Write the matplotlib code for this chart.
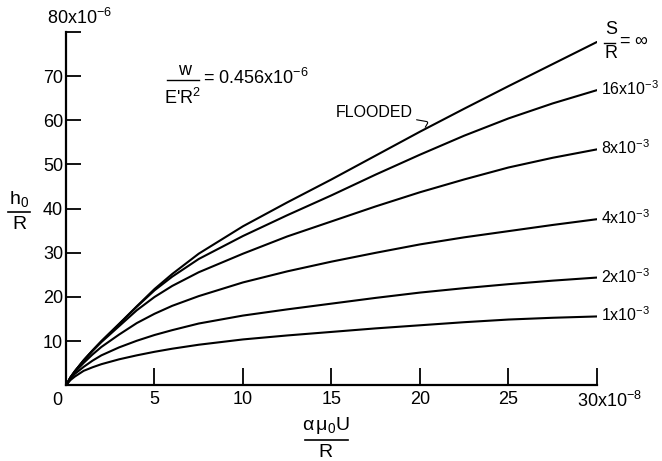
import numpy as np
import matplotlib
matplotlib.use("Agg")
import matplotlib.pyplot as plt
from matplotlib.lines import Line2D

plt.rcParams['font.family'] = ['Liberation Sans', 'DejaVu Sans']
plt.rcParams['mathtext.fontset'] = 'custom'
plt.rcParams['mathtext.rm'] = 'Liberation Sans'
plt.rcParams['mathtext.it'] = 'Liberation Sans'

# speed parameter alpha*mu0*U/R (x1e-8)
speed = [0, 0.25, 0.5, 1, 1.5, 2, 3, 4, 5, 6, 7.5, 10, 12.5, 15, 17.5, 20, 22.5, 25, 27.5, 30]

# film thickness h0/R (x1e-6) for each S/R
h_inf = [0, 1.8, 3.2, 5.7, 7.9, 10.0, 13.9, 17.9, 21.8, 25.2, 29.8, 36.0, 41.4, 46.6, 52.0, 57.4, 62.6, 67.7, 72.7, 77.7]
h_16 = [0, 1.8, 3.2, 5.7, 7.9, 10.0, 13.9, 17.8, 21.5, 24.6, 28.6, 33.8, 38.5, 43.0, 47.7, 52.2, 56.5, 60.4, 63.8, 66.8]
h_8 = [0, 1.8, 3.2, 5.6, 7.8, 9.8, 13.4, 17.0, 20.0, 22.5, 25.6, 29.8, 33.7, 37.1, 40.5, 43.7, 46.6, 49.3, 51.5, 53.4]
h_4 = [0, 1.7, 3.0, 5.1, 7.0, 8.7, 11.5, 14.1, 16.2, 18.0, 20.2, 23.3, 25.8, 28.0, 30.0, 31.9, 33.5, 34.9, 36.3, 37.6]
h_2 = [0, 1.5, 2.6, 4.2, 5.6, 6.8, 8.6, 10.1, 11.4, 12.5, 14.0, 15.8, 17.2, 18.5, 19.8, 21.0, 22.0, 22.9, 23.7, 24.4]
h_1 = [0, 1.2, 2.0, 3.3, 4.1, 4.8, 5.9, 6.8, 7.6, 8.3, 9.2, 10.4, 11.3, 12.1, 12.9, 13.6, 14.3, 14.9, 15.3, 15.6]

curves = [h_inf, h_16, h_8, h_4, h_2, h_1]
end_labels = [None, r'16x10$^{-3}$', r'8x10$^{-3}$', r'4x10$^{-3}$', r'2x10$^{-3}$', r'1x10$^{-3}$']

fig = plt.figure(figsize=(6.62, 4.61), dpi=100)
ax = fig.add_axes([0.0997, 0.164, 0.802, 0.767])

for h in curves:
    ax.plot(speed, h, color='black', lw=1.5, solid_capstyle='round', solid_joinstyle='round')

ax.set_xlim(0, 30)
ax.set_ylim(0, 80)
ax.spines['top'].set_visible(False)
ax.spines['right'].set_visible(False)
ax.spines['left'].set_linewidth(1.6)
ax.spines['bottom'].set_linewidth(1.6)

ax.set_xticks([5, 10, 15, 20, 25, 30])
ax.set_xticklabels(['5', '10', '15', '20', '25', ''])
ax.set_yticks([10, 20, 30, 40, 50, 60, 70, 80])
ax.set_yticklabels(['10', '20', '30', '40', '50', '60', '70', ''])
ax.tick_params(axis='both', direction='in', width=1.3, labelsize=13)
ax.tick_params(axis='x', length=12, pad=4)
ax.tick_params(axis='y', length=11, pad=2)

# extra axis labels
ax.annotate('0', xy=(0, 0), xytext=(-6, -5), textcoords='offset points',
            ha='center', va='top', fontsize=13, annotation_clip=False)
ax.annotate(r'30x10$^{-8}$', xy=(30, 0), xytext=(-14, -4), textcoords='offset points',
            ha='left', va='top', fontsize=13, annotation_clip=False)
ax.annotate(r'80x10$^{-6}$', xy=(0, 80), xytext=(-14, 3), textcoords='offset points',
            ha='left', va='bottom', fontsize=13, annotation_clip=False)

# y axis label h0/R
fig.text(0.029, 0.568, r'h$_0$', ha='center', va='center', fontsize=14)
fig.add_artist(Line2D([0.012, 0.045], [0.540, 0.540], color='black', lw=1.2))
fig.text(0.029, 0.512, 'R', ha='center', va='center', fontsize=14)

# x axis label alpha mu0 U / R
fig.text(0.492, 0.078, r'$\alpha\,\mu_0$U', ha='center', va='center', fontsize=14)
fig.add_artist(Line2D([0.461, 0.526], [0.046, 0.046], color='black', lw=1.2))
fig.text(0.492, 0.019, 'R', ha='center', va='center', fontsize=14)

# load parameter
fig.text(0.279, 0.848, 'w', ha='center', va='center', fontsize=13)
fig.add_artist(Line2D([0.252, 0.301], [0.826, 0.826], color='black', lw=1.0))
fig.text(0.276, 0.788, r"E'R$^2$", ha='center', va='center', fontsize=13)
fig.text(0.307, 0.831, r'= 0.456x10$^{-6}$', ha='left', va='center', fontsize=13)

# FLOODED label with leader
ax.annotate('FLOODED', xy=(20.3, 58.4), xytext=(17.4, 61.8), ha='center', va='center',
            fontsize=11.5, arrowprops=dict(arrowstyle='-', lw=0.8, color='black',
                                            shrinkA=1, shrinkB=0,
                                            connectionstyle='angle,angleA=-10,angleB=60,rad=2'))

# end labels
ax.annotate('S', xy=(speed[-1], h_inf[-1]), xytext=(10, 9), textcoords='offset points',
            ha='center', va='center', fontsize=13, annotation_clip=False)
ax.annotate('R', xy=(speed[-1], h_inf[-1]), xytext=(10, -8), textcoords='offset points',
            ha='center', va='center', fontsize=13, annotation_clip=False)
ax.annotate('= $\\infty$', xy=(speed[-1], h_inf[-1]), xytext=(16, 0), textcoords='offset points',
            ha='left', va='center', fontsize=13, annotation_clip=False)
fig.add_artist(Line2D([0.913, 0.929], [0.907, 0.907], color='black', lw=1.0))
for h, lab in zip(curves[1:], end_labels[1:]):
    ax.annotate(lab, xy=(speed[-1], h[-1]), xytext=(3, 1), textcoords='offset points',
                ha='left', va='center', fontsize=11.5, annotation_clip=False)

fig.savefig('out.png', dpi=100)
